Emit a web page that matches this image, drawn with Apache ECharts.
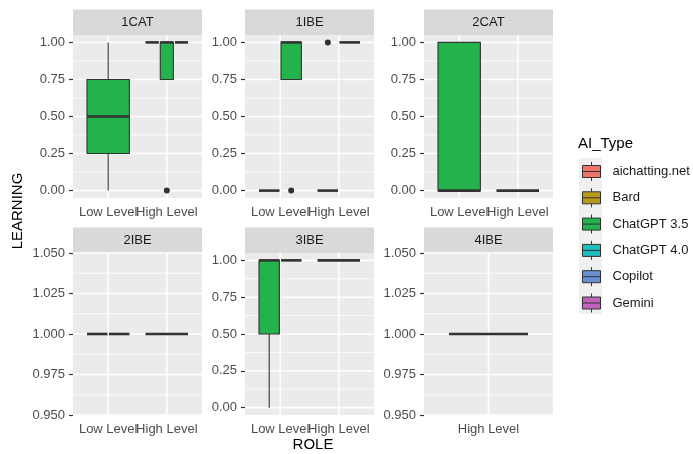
<!DOCTYPE html>
<html><head><meta charset="utf-8">
<script src="https://cdn.jsdelivr.net/npm/echarts@6/dist/echarts.min.js"></script>
<style>html,body{margin:0;padding:0;background:#fff}#c{width:693px;height:454px}</style>
</head><body><div id="c"></div>
<script>
// ---------- data ----------
const aiTypes  = ['aichatting.net', 'Bard', 'ChatGPT 3.5', 'ChatGPT 4.0', 'Copilot', 'Gemini'];
const aiColors = ['#F2736C', '#B89B1C', '#23B24B', '#1EBDC0', '#6B8FD4', '#C063BC'];
const facets   = ['1CAT', '1IBE', '2CAT', '2IBE', '3IBE', '4IBE'];
const rolesTwo = ['Low Level', 'High Level'];
const rolesOne = ['High Level'];
const yTicksUnit = [0, 0.25, 0.5, 0.75, 1];
const yMinorUnit = [0.125, 0.375, 0.625, 0.875];
const yTicksOne  = [0.95, 0.975, 1, 1.025, 1.05];
const yMinorOne  = [0.9625, 0.9875, 1.0125, 1.0375];

// [role, AI type, lower whisker, Q1, median, Q3, upper whisker, outliers]
const box1CAT = [
  ['Low Level',  'ChatGPT 3.5', 0, 0.25, 0.5, 0.75, 1, []],
  ['High Level', 'Bard',        1, 1, 1, 1, 1, []],
  ['High Level', 'ChatGPT 3.5', 0.75, 0.75, 1, 1, 1, [0]],
  ['High Level', 'ChatGPT 4.0', 1, 1, 1, 1, 1, []]
];
const box1IBE = [
  ['Low Level',  'Bard',        0, 0, 0, 0, 0, []],
  ['Low Level',  'ChatGPT 3.5', 0.75, 0.75, 1, 1, 1, [0]],
  ['High Level', 'ChatGPT 3.5', 0, 0, 0, 0, 0, [1]],
  ['High Level', 'Gemini',      1, 1, 1, 1, 1, []]
];
const box2CAT = [
  ['Low Level',  'ChatGPT 3.5', 0, 0, 0, 1, 1, []],
  ['High Level', 'Copilot',     0, 0, 0, 0, 0, []]
];
const box2IBE = [
  ['Low Level',  'Bard',        1, 1, 1, 1, 1, []],
  ['Low Level',  'ChatGPT 4.0', 1, 1, 1, 1, 1, []],
  ['High Level', 'Copilot',     1, 1, 1, 1, 1, []]
];
const box3IBE = [
  ['Low Level',  'ChatGPT 3.5', 0, 0.5, 1, 1, 1, []],
  ['Low Level',  'Gemini',      1, 1, 1, 1, 1, []],
  ['High Level', 'ChatGPT 4.0', 1, 1, 1, 1, 1, []]
];
const box4IBE = [
  ['High Level', 'Copilot',     1, 1, 1, 1, 1, []]
];

// ---------- layout ----------
const FONT = "'Liberation Sans', Arial, sans-serif";
const panelBoxes = [box1CAT, box1IBE, box2CAT, box2IBE, box3IBE, box4IBE];
const panelRoles = [rolesTwo, rolesTwo, rolesTwo, rolesTwo, rolesTwo, rolesOne];
const panelUnitScale = [true, true, true, false, true, false];
const colLeft = [73, 245, 424], panelW = 129;
const rowTop = [35, 253], rowH = [163, 162];
const stripH = 25.5;

const grids = [], xAxes = [], yAxes = [], series = [], graphics = [];

panelBoxes.forEach((list, p) => {
  const col = p % 3, row = Math.floor(p / 3);
  const roles = panelRoles[p];
  const n = roles.length;
  const pad = 0.1 * panelW / (n + 0.2);   // ggplot discrete expansion (0.6 units each side)
  grids.push({ left: colLeft[col] + pad, top: rowTop[row], width: panelW - 2 * pad, height: rowH[row],
               show: false });
  xAxes.push({ type: 'category', gridIndex: p, data: roles, boundaryGap: true,
    axisLine: { show: false },
    axisTick: { alignWithLabel: true, interval: 0, length: 4, lineStyle: { color: '#333', width: 1.2 } },
    axisLabel: { interval: 0, margin: 8, fontSize: 13, color: '#4D4D4D', fontFamily: FONT },
    splitLine: { show: false } });
  const unit = panelUnitScale[p];
  const ticks = unit ? yTicksUnit : yTicksOne;
  const minors = unit ? yMinorUnit : yMinorOne;
  const dec = unit ? 2 : 3;
  yAxes.push({ type: 'value', gridIndex: p, offset: pad,
    min: unit ? -0.05 : 0.95, max: 1.05,
    axisLine: { show: false },
    axisTick: { show: true, length: 4, customValues: ticks, lineStyle: { color: '#333', width: 1.2 } },
    axisLabel: { customValues: ticks, margin: 8, fontSize: 13, color: '#4D4D4D', fontFamily: FONT,
                 formatter: v => Number(v).toFixed(dec) },
    splitLine: { show: false } });

  // panel background and grid lines drawn through the axes' scales
  series.push({ type: 'custom', xAxisIndex: p, yAxisIndex: p, silent: true, z: 1,
    data: [[0, ticks[0]]],
    renderItem: (params, api) => {
      const cs = params.coordSys;
      const x0 = cs.x - pad, x1 = cs.x + cs.width + pad;
      const ch = [{ type: 'rect', shape: { x: x0, y: cs.y, width: x1 - x0, height: cs.height },
                    style: { fill: '#EBEBEB' } }];
      minors.forEach(v => { const y = api.coord([0, v])[1];
        ch.push({ type: 'line', shape: { x1: x0, y1: y, x2: x1, y2: y },
                  style: { stroke: '#FFFFFF', lineWidth: 0.8 } }); });
      ticks.forEach(v => { const y = api.coord([0, v])[1];
        ch.push({ type: 'line', shape: { x1: x0, y1: y, x2: x1, y2: y },
                  style: { stroke: '#FFFFFF', lineWidth: 1.6 } }); });
      roles.forEach((r, i) => { const x = api.coord([i, ticks[0]])[0];
        ch.push({ type: 'line', shape: { x1: x, y1: cs.y, x2: x, y2: cs.y + cs.height },
                  style: { stroke: '#FFFFFF', lineWidth: 1.6 } }); });
      return { type: 'group', children: ch };
    } });

  // dodge groups per role
  const items = list.map(b => ({ role: b[0], type: b[1], lo: b[2], q1: b[3], med: b[4], q3: b[5], hi: b[6], out: b[7] }));
  items.forEach(it => {
    const same = items.filter(o => o.role === it.role)
      .sort((a, b) => aiTypes.indexOf(a.type) - aiTypes.indexOf(b.type));
    it.k = same.length; it.slot = same.indexOf(it); it.cat = roles.indexOf(it.role);
  });
  aiTypes.forEach((t, ti) => {
    const mine = items.filter(it => it.type === t);
    if (!mine.length) return;
    series.push({ type: 'custom', name: t, xAxisIndex: p, yAxisIndex: p, z: 3,
      itemStyle: { color: aiColors[ti] },
      data: mine.map(it => [it.cat, it.lo, it.hi]),
      encode: { x: 0, y: [1, 2] },
      renderItem: (params, api) => {
        const b = mine[params.dataIndex];
        const band = api.size([1, 0])[0];
        const slotW = 0.75 * band / b.k;
        const cx = api.coord([b.cat, b.med])[0] + (b.slot - (b.k - 1) / 2) * slotW;
        const bw = slotW - 1.6;
        const Y = v => api.coord([b.cat, v])[1];
        const ch = [];
        const lineSt = { stroke: '#333333', lineWidth: 1.1 };
        ch.push({ type: 'line', shape: { x1: cx, y1: Y(b.q3), x2: cx, y2: Y(b.hi) }, style: lineSt });
        ch.push({ type: 'line', shape: { x1: cx, y1: Y(b.q1), x2: cx, y2: Y(b.lo) }, style: lineSt });
        ch.push({ type: 'rect', shape: { x: cx - bw / 2, y: Y(b.q3), width: bw, height: Y(b.q1) - Y(b.q3) },
                  style: { fill: aiColors[ti], stroke: '#333333', lineWidth: 1.1 } });
        ch.push({ type: 'line', shape: { x1: cx - bw / 2, y1: Y(b.med), x2: cx + bw / 2, y2: Y(b.med) },
                  style: { stroke: '#333333', lineWidth: 2.6 } });
        b.out.forEach(v => ch.push({ type: 'circle', shape: { cx: cx, cy: Y(v), r: 3 },
                  style: { fill: '#333333' } }));
        return { type: 'group', children: ch };
      } });
  });

  // strip
  const sy = rowTop[row] - stripH;
  graphics.push({ type: 'rect', shape: { x: colLeft[col], y: sy, width: panelW, height: stripH },
                  style: { fill: '#D9D9D9' }, silent: true });
  graphics.push({ type: 'text', x: colLeft[col] + panelW / 2, y: sy + stripH / 2 + 0.5,
                  style: { text: facets[p], fill: '#1A1A1A', font: '13px ' + FONT, align: 'center', verticalAlign: 'middle' } });
});

// legend dummy series (no marks)
aiTypes.forEach((t, ti) => {
  series.push({ type: 'custom', name: t, xAxisIndex: 0, yAxisIndex: 0, data: [],
                itemStyle: { color: aiColors[ti] }, renderItem: () => null });
});

// axis titles and legend title
graphics.push({ type: 'text', x: 18, y: 211, rotation: Math.PI / 2,
  style: { text: 'LEARNING', fill: '#000', font: '15px ' + FONT, align: 'center', verticalAlign: 'middle' } });
graphics.push({ type: 'text', x: 313, y: 445,
  style: { text: 'ROLE', fill: '#000', font: '15px ' + FONT, align: 'center', verticalAlign: 'middle' } });
graphics.push({ type: 'text', x: 578, y: 144,
  style: { text: 'AI_Type', fill: '#000', font: '15px ' + FONT, align: 'left', verticalAlign: 'middle' } });
graphics.push({ type: 'rect', shape: { x: 579, y: 158, width: 23, height: 156 },
  style: { fill: '#F0F0F0' }, silent: true, z: -1 });

const chart = echarts.init(document.getElementById('c'), null, { renderer: 'canvas' });
chart.setOption({
  animation: false,
  backgroundColor: '#FFFFFF',
  grid: grids, xAxis: xAxes, yAxis: yAxes, series: series,
  legend: {
    data: aiTypes, orient: 'vertical', left: 582, top: 161.5, padding: 0,
    itemWidth: 18, itemHeight: 19, itemGap: 6.3, selectedMode: false,
    icon: 'path://M9,0V3.5M0,3.5H18V15.5H0ZM0,9.5H18M9,15.5V19',
    itemStyle: { borderColor: '#333333', borderWidth: 1 },
    textStyle: { fontSize: 13, color: '#1A1A1A', fontFamily: FONT, padding: [0, 0, 0, 7] }
  },
  graphic: graphics
});
</script></body></html>
